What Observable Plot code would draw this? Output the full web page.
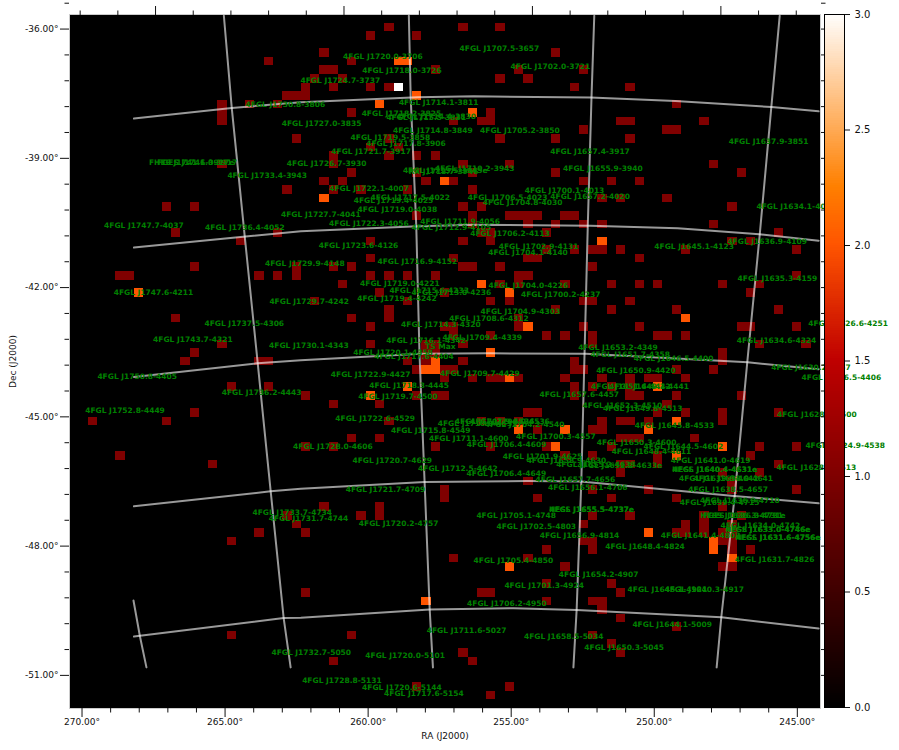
<!DOCTYPE html>
<html><head><meta charset="utf-8">
<script src="https://cdn.jsdelivr.net/npm/d3@7"></script>
<script src="https://cdn.jsdelivr.net/npm/@observablehq/plot@0.6"></script>
<style>html,body{margin:0;padding:0;background:#fff;overflow:hidden}</style>
</head><body>
<script>
// Image pixels [column,row] of the 81x81 counts map, grouped by level
const level1 = [[21,5],[23,9],[24,9],[16,10],[16,11],[16,12],[19,10],[22,10],[24,14],[16,17],[23,20],[10,22],[13,22],[11,25],[22,25],[18,26],
[34,1],[42,1],[46,1],[32,2],[37,2],[27,4],[52,4],[30,5],[27,6],[28,6],[39,6],[48,6],[55,6],[26,7],[29,7],[46,7],[49,7],[25,8],[25,9],[28,8],[32,8],[34,8],[54,8],
[30,11],[45,11],[41,12],[44,12],[45,12],[55,13],[46,14],[52,14],[34,14],[32,15],[35,15],[28,16],[28,17],[34,16],[37,16],[39,16],[42,17],[47,17],[30,18],[37,18],[43,18],[52,18],
[27,19],[29,19],[38,19],[41,19],[55,19],[28,20],[31,20],[36,20],[43,20],[57,21],[42,22],[44,22],[37,23],[43,23],[47,23],[48,23],[49,23],[50,23],[53,23],[54,23],
[43,24],[49,24],[52,24],[55,24],[57,24],[44,25],[45,25],[51,25],[32,26],[42,26],[45,26],[51,27],[54,27],[56,27],[57,27],
[60,8],[65,10],[59,12],[60,12],[68,12],[64,13],[65,13],[60,14],[69,17],[72,18],[58,19],[61,19],[59,21],[64,21],[71,22],[69,24],[76,25],[71,26],[73,26],[59,27],[66,27],[78,27],
[13,29],[5,30],[6,30],[20,30],[22,30],[24,29],[24,30],[11,35],[16,38],[13,39],[12,40],[20,40],[21,40],[17,43],[21,43],[13,46],[2,47],[10,47],[5,51],[15,52],
[32,28],[41,28],[49,28],[50,28],[28,29],[30,29],[42,29],[43,29],[46,29],[56,29],[32,30],[34,30],[36,30],[39,30],[48,30],[49,30],[29,31],[46,31],[48,31],[53,31],[33,32],[40,32],
[26,33],[36,33],[45,33],[47,33],[55,33],[56,33],[34,34],[34,35],[52,34],[30,35],[48,35],[48,36],[32,36],[40,36],[41,36],[55,36],[41,37],[45,37],[51,37],[53,37],[56,37],[56,38],
[32,38],[38,38],[39,38],[42,38],[38,39],[39,39],[36,40],[38,40],[42,40],[54,40],[37,41],[40,41],[41,41],[54,41],[55,41],[40,42],[43,42],[45,42],[46,42],[48,42],[53,42],[57,42],
[54,43],[54,44],[56,43],[25,44],[37,44],[39,44],[40,44],[28,45],[33,45],[49,46],[50,46],[34,47],[44,47],[46,47],[48,47],[57,47],[50,48],[56,48],[57,48],[30,49],[33,49],
[25,50],[28,50],[39,50],[45,50],[51,50],[53,51],[56,51],[49,54],[40,55],[40,56],[50,56],[56,55],
[61,28],[78,30],[58,31],[61,31],[63,31],[70,31],[74,31],[73,32],[60,33],[58,34],[65,34],[76,34],[61,36],[72,36],[73,36],[78,36],[63,37],[64,37],[66,37],[74,38],[79,38],[70,39],[70,40],[69,41],[65,41],
[57,42],[60,42],[62,42],[63,42],[66,42],[58,43],[60,43],[60,44],[61,44],[65,44],[72,44],[64,45],[63,46],[66,46],[70,46],[70,47],[76,46],[57,48],[59,47],[60,47],[62,47],[59,49],[60,49],[61,49],[67,49],[58,50],[63,51],[63,52],[74,50],[78,50],[73,51],[59,52],[60,52],[76,52],[59,53],[74,53],[70,53],[71,54],[62,55],[78,55],[71,55],[58,56],[65,56],
[23,58],[24,59],[20,60],[17,61],[17,72],
[27,57],[33,57],[33,58],[31,58],[56,58],[25,60],[55,59],[55,61],[56,61],[51,62],[56,62],[41,63],[49,63],[53,64],[51,66],[25,67],[44,67],[45,67],[51,68],[56,68],[57,68],[57,69],[30,72],[56,72],[42,74],[28,75],[43,75],[37,78],[47,78],[45,79],
[60,58],[70,57],[72,58],[66,59],[65,60],[66,60],[68,58],[68,59],[68,60],[70,60],[71,60],[70,61],[71,61],[71,62],[73,62],[71,59],[70,64],[71,64],[58,66],[59,67],[59,70],[65,71],[58,73],[59,74]];
const level2 = [[35,5],[36,5],[37,9],[33,10],[43,11],[40,19],[27,21],[57,26],[7,32],[44,31],[47,32],[49,36],[45,39],[39,40],[39,41],[38,41],[47,42],[36,43],[32,44],[48,48],[53,48],[52,50],[66,35],[63,43],[65,47],[62,48],[70,50],[65,51],[47,64],[38,68],[62,60],[69,61],[69,62],[71,63]];
const level3 = [[35,8]];

// Catalogue labels; position on the sky is read from each designation
const sources = ["4FGL J1720.0-3706","4FGL J1707.5-3657","4FGL J1702.0-3721","4FGL J1718.0-3726","4FGL J1724.7-3737","4FGL J1730.8-3806","4FGL J1714.1-3811","4FGL J1718.2-3825","4FGL J1715.5-3831","4FGL J1714.4-3830","4FGL J1727.0-3835","4FGL J1714.8-3849","4FGL J1705.2-3850","4FGL J1637.9-3851","4FGL J1719.5-3858","4FGL J1717.8-3906","4FGL J1721.7-3917","4FGL J1657.4-3917","4FGL J1726.7-3930","4FGL J1655.9-3940","4FGL J1710.2-3943","4FGL J1713.5-3945e","RX J1713.7-3946","4FGL J1733.4-3943","FHES J1741.6-3917e","FGES J1741.0-3917","4FGL J1722.1-4007","4FGL J1700.1-4013","4FGL J1706.5-4023","4FGL J1657.2-4020","4FGL J1717.5-4022","4FGL J1719.4-4025","4FGL J1704.8-4030","4FGL J1719.0-4038","4FGL J1727.7-4041","4FGL J1747.7-4037","4FGL J1736.4-4052","4FGL J1722.3-4056","4FGL J1711.9-4056","4FGL J1712.9-4105","4FGL J1706.2-4113","4FGL J1645.1-4123","4FGL J1636.9-4109","4FGL J1634.1-4017","4FGL J1723.6-4126","4FGL J1702.9-4131","4FGL J1704.1-4140","4FGL J1729.9-4148","4FGL J1716.9-4152","4FGL J1635.3-4159","4FGL J1719.0-4221","4FGL J1704.0-4226","4FGL J1747.6-4211","4FGL J1713.0-4236","4FGL J1715.6-4233","4FGL J1700.2-4237","4FGL J1719.4-4242","4FGL J1729.7-4242","4FGL J1704.9-4303","4FGL J1708.6-4312","4FGL J1737.5-4306","4FGL J1714.3-4320","4FGL J1743.7-4321","4FGL J1709.4-4339","4FGL J1634.6-4324","4FGL J1626.6-4251","4FGL J1730.1-4343","4FGL J1716.1-4342","4FGL J1653.2-4349","4FGL J1720.1-4358","4FGL J1717.6-4404","4FGL J1651.7-4358","4FGL J1646.5-4400","4FGL J1630.2-4357","4FGL J1650.9-4420","4FGL J1626.5-4406","4FGL J1750.8-4405","4FGL J1736.2-4443","4FGL J1722.9-4427","4FGL J1709.7-4429","4FGL J1718.3-4445","4FGL J1719.7-4500","4FGL J1752.8-4449","4FGL J1651.4-4442","4FGL J1649.2-4441","4FGL J1628.8-4500","4FGL J1657.6-4457","4FGL J1649.8-4513","4FGL J1652.3-4510","4FGL J1645.8-4533","4FGL J1710.0-4539","4FGL J1707.9-4536","4FGL J1706.0-4536","4FGL J1704.2-4540","4FGL J1722.6-4529","4FGL J1715.8-4549","4FGL J1700.3-4557","4FGL J1711.1-4600","4FGL J1706.4-4609","4FGL J1728.0-4606","4FGL J1650.3-4600","4FGL J1644.5-4602","4FGL J1648.4-4611","4FGL J1641.0-4619","4FGL J1628.0-4613","4FGL J1624.9-4538","4FGL J1701.9-4625","4FGL J1720.7-4629","4FGL J1658.9-4630","4FGL J1652.2-4633e","4FGL J1655.2-4633","4FGL J1712.5-4642","4FGL J1706.4-4649","HESS J1640.4-4631e","4FGL J1640.4-4631e","4FGL J1657.7-4656","4FGL J1656.1-4706","4FGL J1721.7-4709","4FGL J1639.8-4642","4FGL J1638.0-4641","4FGL J1638.5-4657","4FGL J1636.9-4710","4FGL J1639.4-4715","4FGL J1733.7-4734","4FGL J1731.7-4744","4FGL J1705.1-4748","HESS J1655.5-4737e","4FGL J1655.5-4737e","HESS J1636.3-4731e","FGES J1636.3-4731","4FGL J1634.0-4742","HESS J1633.0-4746e","4FGL J1633.0-4746e","HESS J1631.6-4756e","4FGL J1631.6-4756e","4FGL J1720.2-4757","4FGL J1702.5-4803","4FGL J1656.9-4814","4FGL J1641.4-4803","4FGL J1648.4-4824","4FGL J1631.7-4826","4FGL J1705.4-4850","4FGL J1654.2-4907","4FGL J1701.3-4924","4FGL J1645.1-4921","4FGL J1640.3-4917","4FGL J1706.2-4950","4FGL J1711.6-5027","4FGL J1658.5-5034","4FGL J1644.1-5009","4FGL J1650.3-5045","4FGL J1732.7-5050","4FGL J1720.0-5101","4FGL J1728.8-5131","4FGL J1720.6-5144","4FGL J1717.6-5154"];
const tsMax = {text:"TS Max", ra:258.6, dec:-43.85};

// Coordinate grid lines, [xi, eta] in degrees on the image plane
const gridDec1 = [[6.71,5.67],[4.60,5.92],[3.11,6.05],[.59,6.17],[-.62,6.19],[-3.14,6.16],[-4.97,6.08],[-7.04,5.94],[-8.06,5.84]];
const gridDec2 = [[6.71,2.66],[4.30,2.92],[3.11,3.04],[.59,3.16],[-.62,3.19],[-3.14,3.17],[-5.02,3.11],[-6.78,2.97],[-8.06,2.82]];
const gridDec3 = [[6.71,-.36],[4.04,-.04],[3.11,.03],[.53,.18],[-.98,.19],[-3.04,.18],[-6.53,-.02],[-8.06,-.18]];
const gridDec4 = [[6.71,-3.38],[3.76,-3.03],[3.11,-2.97],[.44,-2.81],[-1.78,-2.79],[-2.93,-2.80],[-6.23,-3.14],[-8.06,-3.31]];
const gridDec5 = [[6.71,-6.42],[3.48,-5.99],[3.11,-5.98],[.33,-5.79],[-1.48,-5.76],[-2.84,-5.80],[-5.96,-5.97],[-8.06,-6.23]];
const gridRa0 = [[6.72,-5.58],[6.58,-6.42],[6.44,-7.14]];
const gridRa1 = [[4.77,8.07],[4.60,5.92],[4.32,2.92],[4.04,-.04],[3.76,-3.03],[3.48,-5.99],[3.33,-7.14]];
const gridRa2 = [[.78,8.07],[.74,6.16],[.62,3.17],[.55,.18],[.44,-2.82],[.33,-5.79],[.26,-7.14]];
const gridRa3 = [[-3.22,8.07],[-3.16,6.16],[-3.08,3.17],[-3.01,.18],[-2.94,-2.82],[-2.84,-5.79],[-2.77,-7.14]];
const gridRa4 = [[-7.22,8.07],[-7.04,5.95],[-6.79,2.97],[-6.52,-.02],[-6.25,-3.13],[-5.96,-5.97],[-5.86,-7.14]];
const gridLines = [gridDec1,gridDec2,gridDec3,gridDec4,gridDec5,gridRa0,gridRa1,gridRa2,gridRa3,gridRa4];

// Axis ticks
const raMajor = [270,265,260,255,250,245];
const raMinor = d3.range(245,271).filter(d => d % 5);
const decMajor = [-36,-39,-42,-45,-48,-51];
const decMinor = d3.range(0,27).map(i => -35.4 - .6*i).filter(d => Math.abs(d/3 - Math.round(d/3)) > .01);
const cbarTicks = [0,.5,1,1.5,2,2.5,3];

const raPlane = ra => 7.83 + (ra-270)*.6172;
const planeRa = x => 270 + (x-7.83)/.6172;
const decPlane = dec => 7.76 + (dec+36)*1.0058;
const planeDec = y => -36 + (y-7.76)/1.0058;
const topPlane = d3.range(20).map(i => 7.87 - .813*i);

const pix = .2, half = 40.5;
const colX = c => (half-c)*pix, rowY = r => (half-r)*pix;
const cells = [...new Map([...level1.map(d=>[...d,1]),...level2.map(d=>[...d,2]),...level3.map(d=>[...d,3])].map(d=>[d[0]+"_"+d[1],d])).values()];

// gnomonic projection of the map, centred near its middle pixel, with a small roll
const ra0 = 258.5, dec0 = -44.2, roll = .016, rad = Math.PI/180;
function tan(ra,dec){
  const d=dec*rad,a=(ra-ra0)*rad,d0=dec0*rad;
  const D=Math.sin(d)*Math.sin(d0)+Math.cos(d)*Math.cos(d0)*Math.cos(a);
  const xi=Math.cos(d)*Math.sin(a)/D/rad, eta=(Math.sin(d)*Math.cos(d0)-Math.cos(d)*Math.sin(d0)*Math.cos(a))/D/rad;
  return [xi+roll*eta+.02, eta-roll*xi];
}
const labels = sources.map(text=>{
  const m=text.match(/J(\d\d)(\d\d\.\d)-(\d\d)(\d\d)/);
  const [x,y]=tan(15*(+m[1]+m[2]/60),-(+m[3]+m[4]/60));
  return {text,x,y};
});
{const [x,y]=tan(tsMax.ra,tsMax.dec);labels.push({text:tsMax.text,x,y});}

const gistHeat = t => `rgb(${Math.round(255*Math.min(1,1.5*t))},${Math.round(255*Math.max(0,2*t-1))},${Math.round(255*Math.max(0,4*t-3))})`;
const colorScale = {type:"linear",domain:[0,3],interpolate:gistHeat};
const font = {fontFamily:"'DejaVu Sans'",fontSize:"9px",color:"#111"};

const main = Plot.plot({
  width:899,height:750,marginLeft:69,marginRight:79,marginTop:14,marginBottom:42,
  style:{...font,position:"absolute",left:0,top:0,background:"white"},
  x:{domain:[8.1,-8.1]},y:{domain:[-8.1,8.1]},color:colorScale,
  marks:[
    Plot.frame({fill:"black",stroke:"#ccc"}),
    Plot.rect(cells,{x1:d=>colX(d[0]),x2:d=>colX(d[0]+1),y1:d=>rowY(d[1]),y2:d=>rowY(d[1]+1),fill:d=>d[2],shapeRendering:"crispEdges"}),
    Plot.line(gridLines.flatMap((l,i)=>l.map(p=>({i,x:p[0],y:p[1]}))),{x:"x",y:"y",z:"i",stroke:"white",strokeOpacity:.6,strokeWidth:2}),
    Plot.text(labels,{x:"x",y:"y",text:"text",fill:"#008000",fontSize:7.5,fontWeight:"bold"}),
    Plot.axisX({anchor:"bottom",ticks:raMajor.map(raPlane),tickSize:9,tickPadding:1,tickFormat:d=>Math.round(planeRa(d)).toFixed(2)+"°",label:"RA (J2000)",labelAnchor:"center",labelArrow:false,labelOffset:30}),
    Plot.axisX({anchor:"bottom",ticks:raMinor.map(raPlane),tickSize:4.5,tickFormat:()=>"",label:null}),
    Plot.axisX({anchor:"top",ticks:topPlane.filter((d,i)=>i%5==2),tickSize:9,tickFormat:()=>"",label:null}),
    Plot.axisX({anchor:"top",ticks:topPlane.filter((d,i)=>i%5!=2),tickSize:4.5,tickFormat:()=>"",label:null}),
    Plot.axisY({anchor:"left",ticks:decMajor.map(decPlane),tickSize:9,tickPadding:2,tickFormat:d=>Math.round(planeDec(d)).toFixed(2)+"°",label:"Dec (J2000)",labelAnchor:"center",labelArrow:false,labelOffset:60}),
    Plot.axisY({anchor:"left",ticks:decMinor.map(decPlane),tickSize:4.5,tickFormat:()=>"",label:null}),
    Plot.axisY({anchor:"right",ticks:decMajor.map(decPlane),tickSize:9,tickFormat:()=>"",label:null}),
    Plot.axisY({anchor:"right",ticks:decMinor.map(decPlane),tickSize:4.5,tickFormat:()=>"",label:null})
  ]
});
const levels = d3.range(0,3,.01);
const cbar = Plot.plot({
  width:899,height:750,marginLeft:824,marginRight:55,marginTop:14,marginBottom:43,
  style:{fontFamily:"'DejaVu Sans'",fontSize:"10px",color:"#111",position:"absolute",left:0,top:0,background:"transparent"},
  x:{domain:[0,1],axis:null},y:{domain:[0,3]},color:colorScale,
  marks:[
    Plot.rect(levels,{x1:0,x2:1,y1:d=>d,y2:d=>d+.01,fill:d=>d,shapeRendering:"crispEdges"}),
    Plot.frame({stroke:"black"}),
    Plot.axisY({anchor:"right",ticks:cbarTicks,tickSize:5,tickPadding:5,tickFormat:".1f",label:null})
  ]
});
document.body.append(main,cbar);
</script>
</body></html>
